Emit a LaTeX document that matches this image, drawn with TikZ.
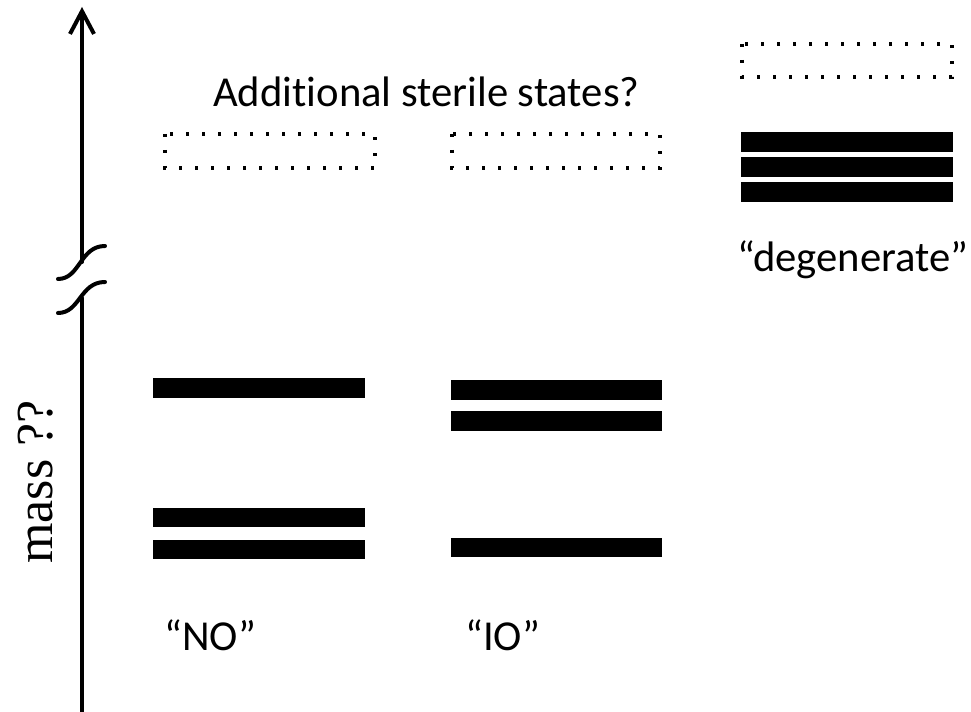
\documentclass[tikz,border=0pt]{standalone}
\usepackage{fontspec}
\setmainfont{Carlito}[Ligatures=NoCommon]
\newfontfamily\timesfont{Liberation Serif}
\usetikzlibrary{arrows.meta}
\begin{document}
\begin{tikzpicture}[x=0.75pt,y=-0.75pt,
  axisline/.style={line width=3pt,line cap=round},
  level/.style={fill=black,draw=none},
  sterile/.style={line width=2.5pt,dash pattern=on 2.5pt off 9.5pt},
  lbl/.style={font=\fontsize{32}{38}\selectfont,inner sep=0pt}]
\useasboundingbox (0,0) rectangle (971,712);
\clip (0,0) rectangle (971,712);
% axis
\coordinate (upbot) at (82,262);
\coordinate (uptop) at (82,7);
\coordinate (lowtop) at (82,298);
\coordinate (lowbot) at (82,715);
\draw[axisline,-{Straight Barb[length=17pt,width=18pt,line width=3pt]}] (upbot) -- (uptop);
\draw[axisline] (lowtop) -- (lowbot);
% break marks
\draw[axisline] (58,279) .. controls (80,279) and (80,246) .. (105,246);
\draw[axisline] (58,313) .. controls (80,313) and (80,282) .. (105,282);
% axis label
\node[font=\timesfont\fontsize{39}{44}\selectfont,rotate=90,anchor=base,inner sep=0pt] (mass) at (52,482) {mass ??};
% NO levels
\fill[level] (153,378) rectangle (365,398);
\fill[level] (153,508) rectangle (365,527);
\fill[level] (153,540) rectangle (365,559);
% IO levels
\fill[level] (451,380) rectangle (662,400);
\fill[level] (451,411) rectangle (662,431);
\fill[level] (451,538) rectangle (662,557);
% degenerate levels
\fill[level] (741,132) rectangle (953,152);
\fill[level] (741,157) rectangle (953,177);
\fill[level] (741,182) rectangle (953,202);
% sterile boxes
\draw[sterile] (165,134) rectangle (375,168);
\draw[sterile] (452,134) rectangle (660,168);
\draw[sterile] (742,44) rectangle (952,77);
% labels
\node[lbl,anchor=base west] (add) at (213,107) {Additional sterile states?};
\node[lbl,anchor=base west] (deg) at (737,272) {“degenerate”};
\node[lbl,anchor=base west] (no) at (164,650) {“NO”};
\node[lbl,anchor=base west] (io) at (465,650) {“IO”};
\end{tikzpicture}
\end{document}
